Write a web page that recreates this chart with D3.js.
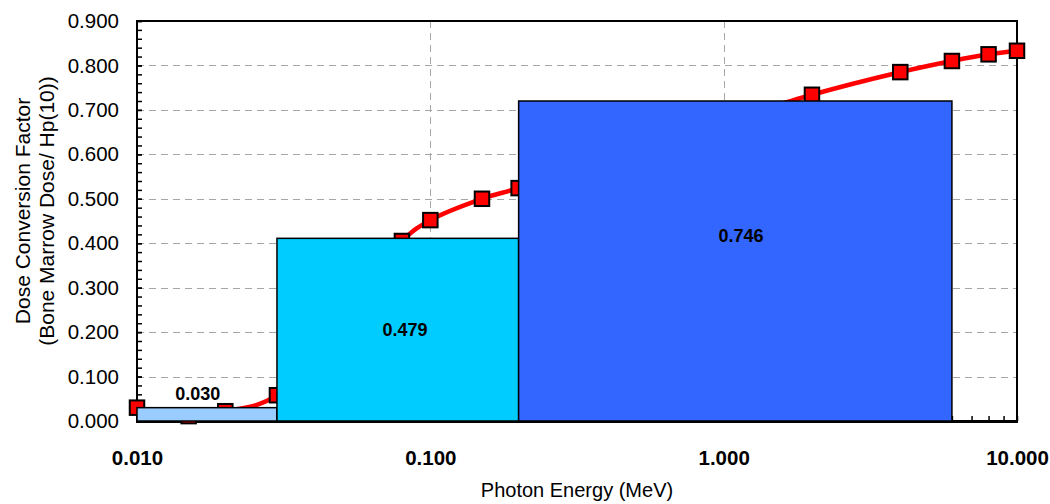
<!DOCTYPE html>
<html>
<head>
<meta charset="utf-8">
<script src="https://cdn.jsdelivr.net/npm/d3@7"></script>
<style>
  html, body { margin: 0; padding: 0; background: #ffffff; }
  svg { display: block; }
  text { font-family: "Liberation Sans", Arial, sans-serif; }
</style>
</head>
<body>
<svg id="chart" width="1050" height="504"></svg>
<script>
// ---- data ----
const energies = [0.010, 0.015, 0.020, 0.030, 0.080, 0.100, 0.150, 0.200, 2.000, 4.000, 6.000, 8.000, 10.000];
const factors  = [0.030, 0.011, 0.022, 0.058, 0.405, 0.452, 0.500, 0.524, 0.734, 0.785, 0.810, 0.825, 0.833];

const binStart  = [0.010, 0.030, 0.200];
const binEnd    = [0.030, 0.200, 6.000];
const binHeight = [0.030, 0.411, 0.720];
const binLabel  = ["0.030", "0.479", "0.746"];
const labelEnergy = [0.0161, 0.082, 1.146];
const labelFactor = [0.062, 0.205, 0.416];

const xTickValues = [0.01, 0.1, 1, 10];
const yTickValues = [0, 0.1, 0.2, 0.3, 0.4, 0.5, 0.6, 0.7, 0.8, 0.9];
const xTitle = "Photon Energy (MeV)";
const yTitle = ["Dose Conversion Factor", "(Bone Marrow Dose/ Hp(10))"];

// ---- styles ----
const binColors = ["#99ccff", "#00ccff", "#3366ff"];

(function () {
const svg = d3.select("#chart");
const pL = 137, pR = 1017, pT = 21, pB = 421;

const x = d3.scaleLog().domain([0.01, 10]).range([pL, pR]);
const y = d3.scaleLinear().domain([0, 0.9]).range([pB, pT]);

// minor ticks
const xMinor = [];
[0.01, 0.1, 1].forEach(d => { for (let k = 2; k <= 9; k++) xMinor.push(d * k); });
const yMinor = d3.range(0, 46).map(i => i * 0.02).filter(v => v <= 0.9);

// grid
const grid = svg.append("g").attr("stroke", "#a6a6a6").attr("stroke-width", 1).attr("stroke-dasharray", "7,5");
grid.selectAll("line.h").data(yTickValues.filter(v => v > 0 && v < 0.9)).join("line")
  .attr("x1", pL).attr("x2", pR)
  .attr("y1", d => Math.round(y(d)) + 0.5).attr("y2", d => Math.round(y(d)) + 0.5);
grid.selectAll("line.v").data(xTickValues.filter(v => v > 0.01 && v < 10)).join("line")
  .attr("y1", pT).attr("y2", pB)
  .attr("x1", d => Math.round(x(d)) + 0.5).attr("x2", d => Math.round(x(d)) + 0.5);

// axes
const yMinorAxis = svg.append("g").attr("transform", `translate(${pL},0)`)
  .call(d3.axisLeft(y).tickValues(yMinor).tickSize(-5).tickFormat(""));
const yAxis = svg.append("g").attr("transform", `translate(${pL},0)`)
  .call(d3.axisLeft(y).tickValues(yTickValues).tickSize(-5).tickPadding(18).tickFormat(d3.format(".3f")));
const xMinorAxis = svg.append("g").attr("transform", `translate(0,${pB})`)
  .call(d3.axisBottom(x).tickValues(xMinor).tickSize(-5).tickFormat(""));
const xAxis = svg.append("g").attr("transform", `translate(0,${pB})`)
  .call(d3.axisBottom(x).tickValues(xTickValues).tickSize(-5).tickPadding(29).tickFormat(d3.format(".3f")));

[yMinorAxis, yAxis, xMinorAxis, xAxis].forEach(g => {
  g.select(".domain").remove();
  g.selectAll(".tick line").attr("stroke", "#000").attr("stroke-width", 1.5);
});
yAxis.selectAll("text").attr("font-size", 20.5).attr("fill", "#000");
xAxis.selectAll("text").attr("font-size", 20.5).attr("font-weight", "bold").attr("fill", "#000");

// frame
svg.append("rect").attr("x", pL).attr("y", pT).attr("width", pR - pL).attr("height", pB - pT)
  .attr("fill", "none").attr("stroke", "#000").attr("stroke-width", 2);
svg.append("line").attr("x1", pL - 1).attr("x2", pR + 1).attr("y1", pB + 0.5).attr("y2", pB + 0.5)
  .attr("stroke", "#000").attr("stroke-width", 3);

// series line
const pts = energies.map((e, i) => [e, factors[i]]);
const line = d3.line().x(d => x(d[0])).y(d => y(d[1])).curve(d3.curveCatmullRom.alpha(0.5));
svg.append("path").datum(pts).attr("d", line)
  .attr("fill", "none").attr("stroke", "#ff0000").attr("stroke-width", 4.5);

// markers
const ms = 14.5;
svg.append("g").selectAll("rect").data(pts).join("rect")
  .attr("x", d => x(d[0]) - ms / 2).attr("y", d => y(d[1]) - ms / 2)
  .attr("width", ms).attr("height", ms)
  .attr("fill", "#ff0000").attr("stroke", "#000").attr("stroke-width", 2);

// bins (drawn over the series)
const bins = binStart.map((s, i) => ({ s, e: binEnd[i], h: binHeight[i], label: binLabel[i], le: labelEnergy[i], lf: labelFactor[i], c: binColors[i] }));
svg.append("g").selectAll("rect").data(bins).join("rect")
  .attr("x", d => x(d.s)).attr("y", d => y(d.h))
  .attr("width", d => x(d.e) - x(d.s)).attr("height", d => y(0) - y(d.h))
  .attr("fill", d => d.c).attr("stroke", "#000").attr("stroke-width", 1.5);

svg.append("g").selectAll("text").data(bins).join("text")
  .attr("x", d => x(d.le)).attr("y", d => y(d.lf))
  .attr("dy", "0.35em").attr("text-anchor", "middle")
  .attr("font-size", 18).attr("font-weight", "bold").attr("fill", "#000")
  .text(d => d.label);

// titles
svg.append("text").attr("x", (pL + pR) / 2).attr("y", 497)
  .attr("text-anchor", "middle").attr("font-size", 20).attr("fill", "#000").text(xTitle);

const yt = svg.append("text").attr("transform", `translate(0,${(pT + pB) / 2 - 10}) rotate(-90)`)
  .attr("text-anchor", "middle").attr("font-size", 21).attr("fill", "#000");
yTitle.forEach((t, i) => {
  yt.append("tspan").attr("x", 0).attr("y", i === 0 ? 30 : 54).text(t);
});
})();
</script>
</body>
</html>
